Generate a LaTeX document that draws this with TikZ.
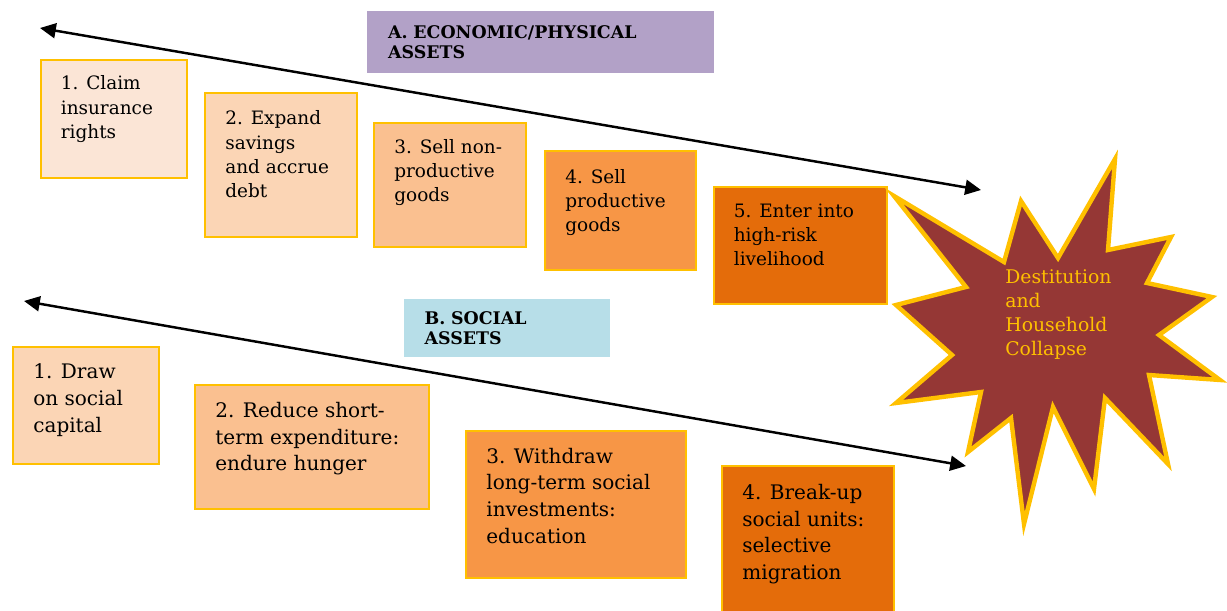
\documentclass[tikz,border=0pt]{standalone}
\usepackage{fontspec}
\setmainfont{DejaVu Serif}
\usetikzlibrary{arrows.meta,positioning}
\definecolor{gold}{HTML}{FFC000}
\definecolor{tintA}{HTML}{FBE5D6}
\definecolor{tintB}{HTML}{FBD5B5}
\definecolor{tintC}{HTML}{FAC090}
\definecolor{tintD}{HTML}{F79646}
\definecolor{tintE}{HTML}{E46C0A}
\definecolor{collapsered}{HTML}{953735}
\definecolor{ecopurple}{HTML}{B2A1C7}
\definecolor{socblue}{HTML}{B7DEE8}
\tikzstyle{stepbox} = [draw=gold, line width=1.1pt, rectangle, anchor=north west, inner sep=0pt]
\tikzstyle{steptext} = [align=left, inner sep=0pt, font=\fontsize{10.5}{13.8}\selectfont]
\tikzstyle{steptextbig} = [steptext, font=\fontsize{11.4}{15.2}\selectfont]
\tikzstyle{assets} = [rectangle, anchor=north west, align=left, inner xsep=0.4cm, inner ysep=0pt, font=\bfseries\fontsize{9.9}{11.7}\selectfont]

\begin{document}
\begin{tikzpicture}[x=0.02cm, y=-0.02cm, >={Triangle[length=9pt,width=8.5pt]}]
    \useasboundingbox (0,0) rectangle (1227,611);

    % Economic / physical assets
    \node [assets, fill=ecopurple, minimum width=6.93cm, minimum height=1.23cm, text width=6.1cm] (ecolabel) at (367,11) {A. ECONOMIC/PHYSICAL\\ASSETS};
    \node [stepbox, fill=tintA, minimum width=2.92cm, minimum height=2.36cm] (eco1) at (40,59) {};
    \node [stepbox, fill=tintB, minimum width=3.04cm, minimum height=2.88cm] (eco2) at (204,92) {};
    \node [stepbox, fill=tintC, minimum width=3.04cm, minimum height=2.48cm] (eco3) at (373,122) {};
    \node [stepbox, fill=tintD, minimum width=3.02cm, minimum height=2.38cm] (eco4) at (544,150) {};
    \node [stepbox, fill=tintE, minimum width=3.46cm, minimum height=2.34cm] (eco5) at (713,186) {};
    \node [steptext, below right=0.33cm and 0.41cm of eco1.north west] (eco1text) {1. Claim\\insurance\\rights};
    \node [steptext, below right=0.37cm and 0.42cm of eco2.north west] (eco2text) {2. Expand\\savings\\and accrue\\debt};
    \node [steptext, below right=0.34cm and 0.42cm of eco3.north west] (eco3text) {3. Sell non-\\productive\\goods};
    \node [steptext, below right=0.38cm and 0.42cm of eco4.north west] (eco4text) {4. Sell\\productive\\goods};
    \node [steptext, below right=0.35cm and 0.41cm of eco5.north west] (eco5text) {5. Enter into\\high-risk\\livelihood};

    % Social assets
    \node [assets, fill=socblue, minimum width=4.11cm, minimum height=1.15cm, text width=3.3cm] (soclabel) at (404,299) {B. SOCIAL\\ASSETS};
    \node [stepbox, fill=tintB, minimum width=2.93cm, minimum height=2.35cm] (soc1) at (12,346) {};
    \node [stepbox, fill=tintC, minimum width=4.68cm, minimum height=2.49cm] (soc2) at (194,384) {};
    \node [stepbox, fill=tintD, minimum width=4.41cm, minimum height=2.95cm] (soc3) at (465,430) {};
    \node [stepbox, fill=tintE, minimum width=3.44cm, minimum height=3.19cm] (soc4) at (721,465) {};
    \node [steptextbig, below right=0.35cm and 0.42cm of soc1.north west] (soc1text) {1. Draw\\on social\\capital};
    \node [steptextbig, below right=0.36cm and 0.42cm of soc2.north west] (soc2text) {2. Reduce short-\\term expenditure:\\endure hunger};
    \node [steptextbig, below right=0.35cm and 0.42cm of soc3.north west] (soc3text) {3. Withdraw\\long-term social\\investments:\\education};
    \node [steptextbig, below right=0.38cm and 0.42cm of soc4.north west] (soc4text) {4. Break-up\\social units:\\selective\\migration};

    % Collapse
    \draw [draw=gold, fill=collapsered, line width=2.5pt, line join=miter]
        (1115,159) -- (1108,250) -- (1171,237) -- (1147,283) -- (1212,297) -- (1159,335)
        -- (1220,380) -- (1149,375) -- (1168,464) -- (1105,398) -- (1094,489) -- (1053,407)
        -- (1024,524) -- (1011,418) -- (968,452) -- (981,392) -- (896,403) -- (952,355)
        -- (896,305) -- (966,287) -- (894,196) -- (1004,262) -- (1021,201) -- (1058,258) -- cycle;
    \node [anchor=north west, align=left, inner sep=0pt, text=gold, font=\fontsize{10.7}{13.8}\selectfont] (collapse) at (1005,269) {Destitution\\and\\Household\\Collapse};

    % Arrows
    \coordinate (ecoleft) at (40,28);
    \coordinate (ecoright) at (981,190);
    \coordinate (socleft) at (24,301);
    \coordinate (socright) at (966,466);
    \draw [<->, line width=1.4pt] (ecoleft) -- (ecoright);
    \draw [<->, line width=1.4pt] (socleft) -- (socright);
\end{tikzpicture}
\end{document}
